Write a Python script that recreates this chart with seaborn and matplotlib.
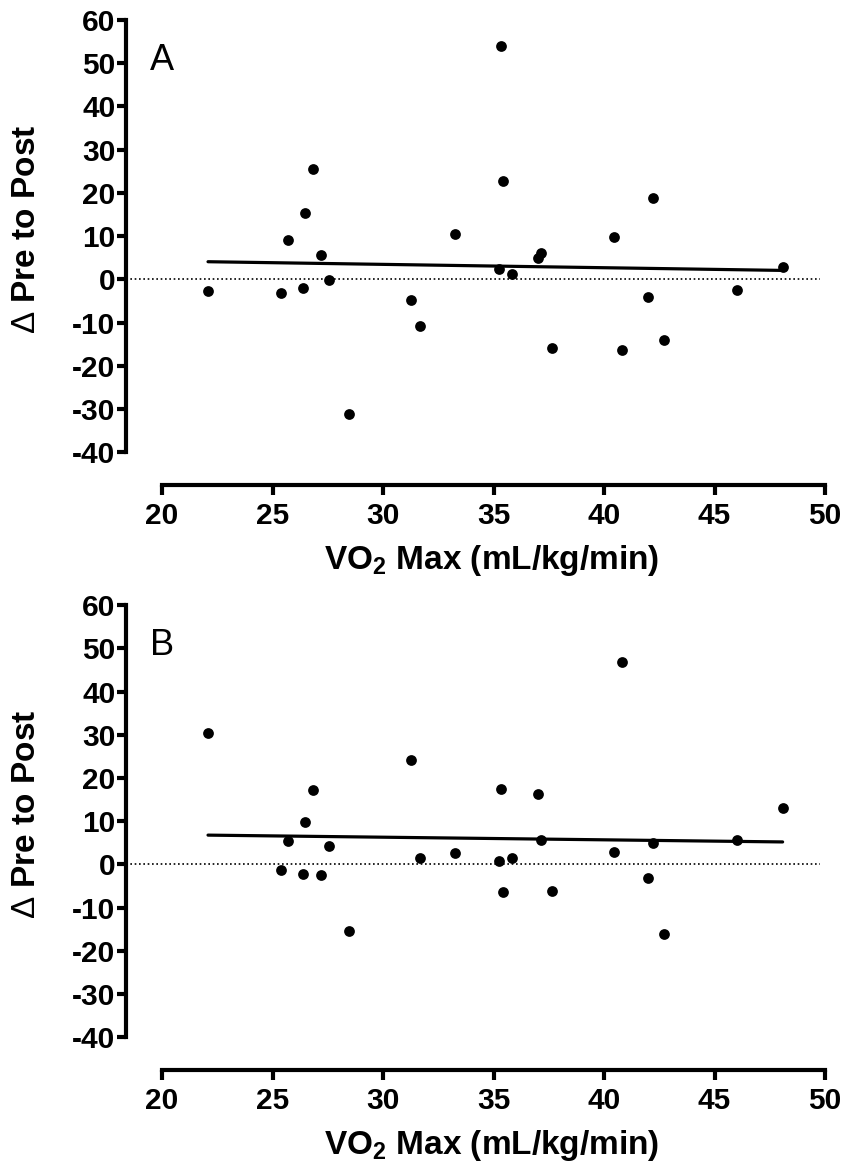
import numpy as np
import pandas as pd
import matplotlib
matplotlib.use("Agg")
import matplotlib.pyplot as plt
import seaborn as sns

# ---- data ----
vo2_max = [22.08, 25.37, 25.68, 26.37, 26.46, 26.85, 27.17, 27.56, 28.45, 31.26,
           31.65, 33.24, 35.23, 35.34, 35.43, 35.84, 37.03, 37.14, 37.63, 40.43,
           40.82, 42.01, 42.21, 42.71, 46.00, 48.08]
delta_a = [-2.6, -3.2, 9.1, -2.0, 15.4, 25.6, 5.6, -0.2, -31.1, -4.9,
           -10.9, 10.5, 2.3, 54.1, 22.8, 1.2, 5.0, 6.1, -15.8, 9.8,
           -16.4, -4.1, 18.9, -14.0, -2.4, 2.8]
delta_b = [30.5, -1.2, 5.5, -2.2, 9.9, 17.2, -2.5, 4.3, -15.4, 24.1,
           1.4, 2.6, 0.8, 17.5, -6.5, 1.5, 16.3, 5.6, -6.2, 2.8,
           46.8, -3.2, 4.9, -16.1, 5.6, 13.0]
panel_labels = ["A", "B"]
x_ticks = [20, 25, 30, 35, 40, 45, 50]
y_ticks = [-40, -30, -20, -10, 0, 10, 20, 30, 40, 50, 60]
x_label = "VO$_2$ Max (mL/kg/min)"
y_label = r"$\mathrm{\Delta}$ Pre to Post"

sns.set_style("ticks")
plt.rcParams['font.family'] = ['Liberation Sans', 'DejaVu Sans']
plt.rcParams['mathtext.fontset'] = 'custom'
plt.rcParams['mathtext.rm'] = 'Liberation Sans'
plt.rcParams['mathtext.default'] = 'regular'
plt.rcParams['axes.unicode_minus'] = False
plt.rcParams['text.color'] = 'black'
plt.rcParams['axes.labelcolor'] = 'black'
plt.rcParams['xtick.color'] = 'black'
plt.rcParams['ytick.color'] = 'black'
plt.rcParams['axes.edgecolor'] = 'black'

fig = plt.figure(figsize=(8.43, 11.65), dpi=100)
positions = [[0.1495, 0.5837, 0.8292, 0.4013],
             [0.1495, 0.0815, 0.8292, 0.4013]]

for pos, ys, lab in zip(positions, [delta_a, delta_b], panel_labels):
    ax = fig.add_axes(pos)
    df = pd.DataFrame({"x": vo2_max, "y": ys})
    ax.axhline(0, xmin=0, xmax=0.993, color="black", lw=1.2,
               linestyle=(0, (1, 1.6)), zorder=1)
    sns.regplot(data=df, x="x", y="y", ax=ax, ci=None,
                scatter_kws=dict(s=60, color="black", linewidths=0, alpha=1, zorder=3),
                line_kws=dict(color="black", lw=2.3, zorder=2, solid_capstyle="round"))
    ax.set_xlim(18.37, 50.0)
    ax.set_ylim(-47.6, 60.6)
    ax.set_xticks(x_ticks)
    ax.set_yticks(y_ticks)
    ax.spines['left'].set_bounds(-40, 60)
    ax.spines['bottom'].set_bounds(20, 50)
    for s in ['left', 'bottom']:
        ax.spines[s].set_linewidth(3.0)
        ax.spines[s].set_capstyle('projecting')
    sns.despine(ax=ax)
    ax.tick_params(axis='y', width=3.0, length=6.5, pad=1, labelsize=21.5)
    ax.tick_params(axis='x', width=3.0, length=7, pad=5, labelsize=21.5)
    for t in ax.get_xticklabels() + ax.get_yticklabels():
        t.set_fontweight('bold')
    ax.set_xlabel(x_label, fontsize=24, fontweight='bold')
    ax.set_ylabel(y_label, fontsize=24, fontweight='bold')
    ax.xaxis.label.set_verticalalignment('baseline')
    ax.xaxis.set_label_coords(0.523, -0.18)
    ax.yaxis.label.set_verticalalignment('baseline')
    ax.yaxis.set_label_coords(-0.1306, 0.5467)
    ax.text(0.034, 0.945, lab, transform=ax.transAxes, fontsize=26,
            ha='left', va='top', color='black')
    ax.set_facecolor('white')

fig.savefig("out.png", dpi=100, facecolor='white')
